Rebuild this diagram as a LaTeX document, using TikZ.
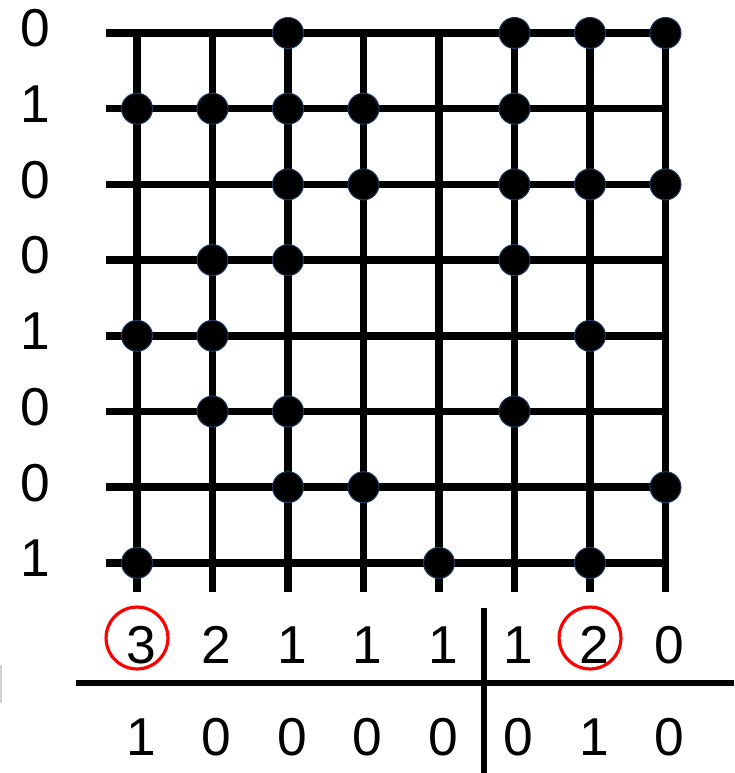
\documentclass[tikz,border=0pt]{standalone}
\usepackage{fontspec}
\setmainfont{Liberation Sans}
\usetikzlibrary{positioning}
\definecolor{dotrim}{RGB}{31,56,100}

\begin{document}
\begin{tikzpicture}[x=0.75pt,y=-0.75pt,
  every node/.style={font=\fontsize{40}{46}\selectfont,inner sep=0pt},
  wire/.style={line width=5.6pt},
  rule/.style={line width=4.5pt},
  pin/.style={circle,fill=black,draw=dotrim,line width=0.8pt,minimum size=23.2pt},
  ring/.style={draw=red,line width=2.4pt}]
\useasboundingbox (0,0) rectangle (734,773);
% grid
\foreach \r in {0,...,7}
  \draw[wire] (106,{33+75.7*\r}) -- (665.5,{33+75.7*\r});
\foreach \c in {0,...,7}
  \draw[wire] ({137+75.5*\c},33) -- ({137+75.5*\c},592);
% row bits
\foreach \b [count=\r from 0] in {0,1,0,0,1,0,0,1}
  \node (row\r) at (35,{28.5+75.7*\r}) {\b};
% dots
\foreach \r/\cols in {0/{2,5,6,7},1/{0,1,2,3,5},2/{2,3,5,6,7},3/{1,2,5},
    4/{0,1,6},5/{1,2,5},6/{2,3,7},7/{0,4,6}}
  \foreach \c in \cols
    \node[pin] (p\r\c) at ({137+75.5*\c},{33+75.7*\r}) {};
% table below
\foreach \v [count=\i from 0] in {3,2,1,1,1,1,2,0}
  \node (top\i) at ({141+75.5*\i},645) {\v};
\foreach \v [count=\i from 0] in {1,0,0,0,0,0,1,0}
  \node (bot\i) at ({141+75.5*\i},737) {\v};
\draw[rule] (76,683) -- (734,683);
\draw[line width=4.2pt] (484,608) -- (484,773);
\draw[ring] (137,638) circle[radius=23.2pt];
\draw[ring] (590,638) circle[radius=23.2pt];
\draw[gray!35,line width=1.5pt] (1,665) -- (1,703);
\end{tikzpicture}
\end{document}
